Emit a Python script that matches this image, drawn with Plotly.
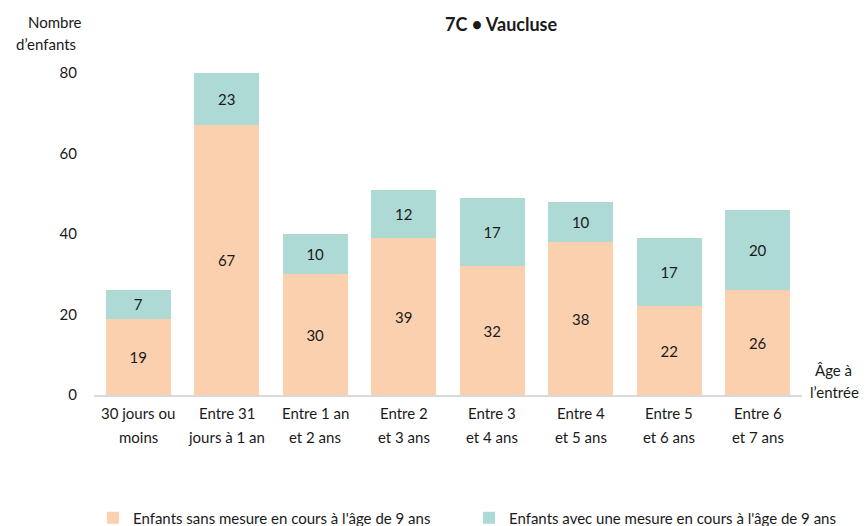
import plotly.graph_objects as go

categories = ["30 jours ou\nmoins", "Entre 31\njours à 1 an", "Entre 1 an\net 2 ans", "Entre 2\net 3 ans",
              "Entre 3\net 4 ans", "Entre 4\net 5 ans", "Entre 5\net 6 ans", "Entre 6\net 7 ans"]
sans_mesure = [19, 67, 30, 39, 32, 38, 22, 26]
avec_mesure = [7, 23, 10, 12, 17, 10, 17, 20]
y_ticks = [0, 20, 40, 60, 80]
Y_MAX = 80

FONT = "Lato"
TXT = "#1a1a1a"
ORANGE = "#FBD0AF"
TEAL = "#ADDAD4"

# page body has an 8px default margin: compensate
OX, OY = 8, 8
W, H = 867 - OX, 526 - OY
L = 94 - OX
T = 73 - OY
R = W - (802 - OX)
B = H - (395 - OY)
PW, PH = W - L - R, H - T - B

def px_x(px):
    return (px - OX - L) / PW

def px_y(py):
    return (H - B - (py - OY)) / PH

xs = list(range(len(categories)))
# the axis is capped at Y_MAX: the visible part of a segment is clipped there (label keeps the true value)
avec_visible = [min(a, Y_MAX - s) for a, s in zip(avec_mesure, sans_mesure)]

fig = go.Figure()
fig.add_trace(go.Bar(x=xs, y=sans_mesure, name="Enfants sans mesure en cours à l'âge de 9 ans",
                     marker=dict(color=ORANGE, line=dict(width=0)),
                     text=sans_mesure, textposition="inside", insidetextanchor="middle",
                     textfont=dict(family=FONT, size=15, color=TXT)))
fig.add_trace(go.Bar(x=xs, y=avec_visible, name="Enfants avec une mesure en cours à l'âge de 9 ans",
                     marker=dict(color=TEAL, line=dict(width=0)),
                     text=avec_mesure, textposition="inside", insidetextanchor="middle",
                     textfont=dict(family=FONT, size=15, color=TXT)))

annotations = []
for i, c in enumerate(categories):
    for j, line in enumerate(c.split("\n")):
        annotations.append(dict(x=i, xref="x", y=px_y(413 + 24 * j), yref="paper", text=line,
                                showarrow=False, xanchor="center", yanchor="middle",
                                font=dict(family=FONT, size=15, color=TXT)))
annotations += [
    dict(x=px_x(55), y=px_y(22), xref="paper", yref="paper", text="Nombre", showarrow=False,
         xanchor="center", yanchor="middle", font=dict(family=FONT, size=15, color=TXT)),
    dict(x=px_x(46), y=px_y(44), xref="paper", yref="paper", text="d’enfants", showarrow=False,
         xanchor="center", yanchor="middle", font=dict(family=FONT, size=15, color=TXT)),
    dict(x=px_x(833), y=px_y(370), xref="paper", yref="paper", text="Âge à", showarrow=False,
         xanchor="center", yanchor="middle", font=dict(family=FONT, size=15, color=TXT)),
    dict(x=px_x(834), y=px_y(392), xref="paper", yref="paper", text="l’entrée", showarrow=False,
         xanchor="center", yanchor="middle", font=dict(family=FONT, size=15, color=TXT)),
    dict(x=px_x(501), y=px_y(24), xref="paper", yref="paper", text="<b>7C • Vaucluse</b>", showarrow=False,
         xanchor="center", yanchor="middle", font=dict(family=FONT, size=18, color=TXT)),
]

fig.update_layout(
    width=W, height=H,
    margin=dict(l=L, r=R, t=T, b=B, pad=0, autoexpand=False),
    barmode="stack", bargap=0.265,
    plot_bgcolor="white", paper_bgcolor="white",
    font=dict(family=FONT, size=15, color=TXT),
    showlegend=True,
    legend=dict(orientation="h", xref="paper", yref="paper",
                x=px_x(93), y=px_y(518),
                xanchor="left", yanchor="middle", entrywidth=331, entrywidthmode="pixels",
                font=dict(family=FONT, size=15, color=TXT), traceorder="normal",
                itemsizing="constant"),
    annotations=annotations,
    xaxis=dict(range=[-0.5, len(categories) - 0.5], showticklabels=False, ticks="",
               showline=True, linecolor="#d9d9d9", linewidth=1.5, showgrid=False, zeroline=False,
               fixedrange=True),
    yaxis=dict(range=[0, Y_MAX], tickvals=y_ticks, showgrid=False, zeroline=False, showline=False,
               ticks="", ticklabelstandoff=16, tickfont=dict(family=FONT, size=15, color=TXT),
               fixedrange=True),
)

fig.write_html("out.html")
